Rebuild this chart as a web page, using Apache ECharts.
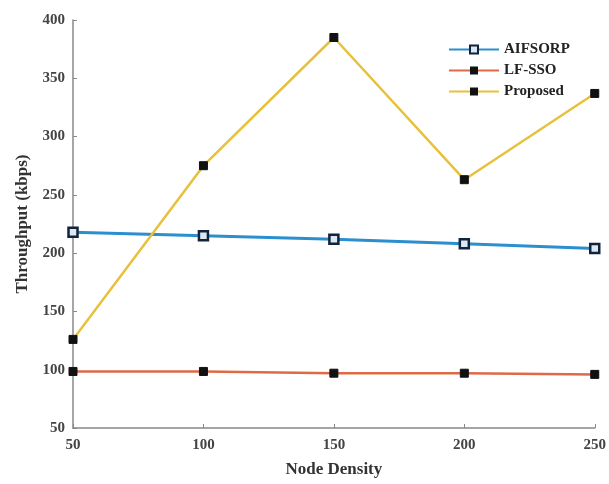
<!DOCTYPE html>
<html><head><meta charset="utf-8">
<script src="https://cdn.jsdelivr.net/npm/echarts@6/dist/echarts.min.js"></script>
<style>html,body{margin:0;padding:0;background:#fff}#c{width:609px;height:484px}</style>
</head><body><div id="c"></div>
<script>
const xValues = [50, 100, 150, 200, 250];
const aifsorp = [218, 215, 212, 208, 204];
const lfsso = [98.5, 98.5, 97, 97, 96];
const proposed = [126, 275, 385, 263, 337];
const seriesNames = ['AIFSORP', 'LF-SSO', 'Proposed'];

const font = 'Liberation Serif, Times New Roman, serif';
const pairs = arr => xValues.map((x, i) => [x, arr[i]]);
const chart = echarts.init(document.getElementById('c'));
chart.setOption({
  animation: false,
  backgroundColor: '#fff',
  grid: {left: 73, right: 14, top: 20, bottom: 56},
  legend: {
    left: 443, top: 37, orient: 'vertical', itemGap: 6, itemWidth: 50, itemHeight: 10,
    textStyle: {fontFamily: font, fontWeight: 'bold', fontSize: 15, color: '#222'},
    data: seriesNames
  },
  xAxis: {
    type: 'value', min: 50, max: 250, interval: 50,
    name: 'Node Density', nameLocation: 'middle', nameGap: 33,
    nameTextStyle: {fontFamily: font, fontWeight: 'bold', fontSize: 17, color: '#333'},
    axisLine: {lineStyle: {color: '#888', width: 1.5}},
    axisTick: {inside: true, length: 4, lineStyle: {color: '#888'}},
    axisLabel: {fontFamily: font, fontWeight: 'bold', fontSize: 15, color: '#444', margin: 10},
    splitLine: {show: false}
  },
  yAxis: {
    type: 'value', min: 50, max: 400, interval: 50,
    name: 'Throughput (kbps)', nameLocation: 'middle', nameGap: 42,
    nameTextStyle: {fontFamily: font, fontWeight: 'bold', fontSize: 17, color: '#333'},
    axisLine: {show: true, lineStyle: {color: '#888', width: 1.5}},
    axisTick: {show: true, inside: true, length: 4, lineStyle: {color: '#888'}},
    axisLabel: {fontFamily: font, fontWeight: 'bold', fontSize: 15, color: '#444', margin: 8},
    splitLine: {show: false}
  },
  series: [
    {name: seriesNames[0], type: 'line', data: pairs(aifsorp), symbol: 'rect', symbolSize: 9,
     lineStyle: {color: '#2b8fcf', width: 3}, itemStyle: {color: '#dde8f2', borderColor: '#10243e', borderWidth: 2.5}},
    {name: seriesNames[1], type: 'line', data: pairs(lfsso), symbol: 'rect', symbolSize: 8,
     lineStyle: {color: '#de6a45', width: 2.5}, itemStyle: {color: '#111', borderColor: '#111'}},
    {name: seriesNames[2], type: 'line', data: pairs(proposed), symbol: 'rect', symbolSize: 8,
     lineStyle: {color: '#e8c13c', width: 2.5}, itemStyle: {color: '#111', borderColor: '#111'}}
  ]
});
</script></body></html>
